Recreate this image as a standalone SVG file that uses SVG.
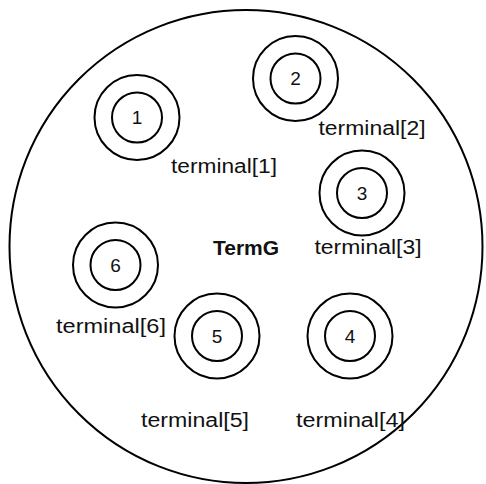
<svg xmlns="http://www.w3.org/2000/svg" width="486" height="484" viewBox="0 0 486 484">
<style>
.ring{fill:none;stroke:#000;stroke-width:2}
.num{font-family:"Liberation Sans",Arial,sans-serif;font-size:19px;fill:#111;text-anchor:middle;dominant-baseline:central}
.lbl{font-family:"Liberation Sans",Arial,sans-serif;font-size:20px;fill:#111}
.title{font-family:"Liberation Sans",Arial,sans-serif;font-size:21px;font-weight:bold;fill:#111}
</style>
<rect width="486" height="484" fill="#fff"/>
<g id="TermG">
<circle class="ring" cx="246" cy="246.5" r="236.5"/>
<text class="title" x="213" y="255">TermG</text>
</g>
<g id="terminal1">
<circle class="ring" cx="137" cy="117.5" r="42.5"/>
<circle class="ring" cx="137" cy="117.5" r="25"/>
<text class="num" x="137" y="117.5">1</text>
<text class="lbl" x="171" y="173" textLength="106" lengthAdjust="spacingAndGlyphs">terminal[1]</text>
</g>
<g id="terminal2">
<circle class="ring" cx="295.5" cy="78.5" r="42.5"/>
<circle class="ring" cx="295.5" cy="78.5" r="25"/>
<text class="num" x="295.5" y="78.5">2</text>
<text class="lbl" x="318.5" y="135" textLength="107" lengthAdjust="spacingAndGlyphs">terminal[2]</text>
</g>
<g id="terminal3">
<circle class="ring" cx="362" cy="193" r="42.5"/>
<circle class="ring" cx="362" cy="193" r="25"/>
<text class="num" x="362" y="193">3</text>
<text class="lbl" x="314.5" y="253.5" textLength="107" lengthAdjust="spacingAndGlyphs">terminal[3]</text>
</g>
<g id="terminal4">
<circle class="ring" cx="350" cy="336" r="42.5"/>
<circle class="ring" cx="350" cy="336" r="25"/>
<text class="num" x="350" y="336">4</text>
<text class="lbl" x="296" y="427" textLength="109" lengthAdjust="spacingAndGlyphs">terminal[4]</text>
</g>
<g id="terminal5">
<circle class="ring" cx="217" cy="336" r="42.5"/>
<circle class="ring" cx="217" cy="336" r="25"/>
<text class="num" x="217" y="336">5</text>
<text class="lbl" x="141" y="426.5" textLength="108" lengthAdjust="spacingAndGlyphs">terminal[5]</text>
</g>
<g id="terminal6">
<circle class="ring" cx="115.5" cy="265" r="42.5"/>
<circle class="ring" cx="115.5" cy="265" r="25"/>
<text class="num" x="115.5" y="265">6</text>
<text class="lbl" x="56" y="333" textLength="110" lengthAdjust="spacingAndGlyphs">terminal[6]</text>
</g>
<g id="connectors"></g>
</svg>
